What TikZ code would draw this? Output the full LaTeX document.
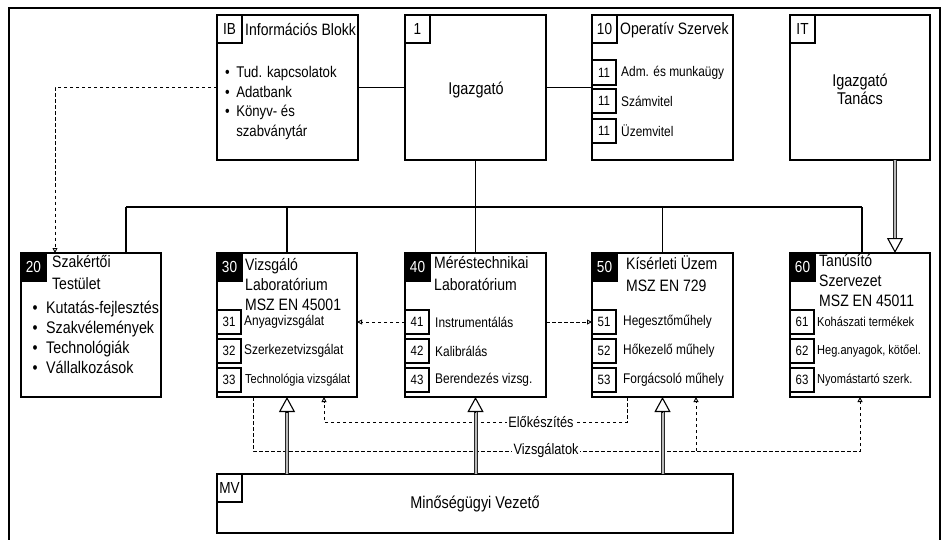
\documentclass[tikz,border=0pt]{standalone}
\usepackage{fontspec}
\setmainfont{Liberation Sans}[FakeStretch=0.85]
\usetikzlibrary{arrows.meta,calc}
\newcommand\ftitle{\fontsize{16.5pt}{20pt}\selectfont}
\newcommand\ftitleB{\fontsize{16.5pt}{22pt}\selectfont}
\newcommand\fmain{\fontsize{17pt}{18pt}\selectfont}
\newcommand\fbulA{\fontsize{15.5pt}{19.7pt}\selectfont}
\newcommand\fbulB{\fontsize{16.8pt}{20pt}\selectfont}
\newcommand\fsub{\fontsize{14pt}{16pt}\selectfont}
\newcommand\fsubS{\fontsize{13pt}{16pt}\selectfont}
\newcommand\fsubn{\fontsize{13.5pt}{16pt}\selectfont}
\newcommand\flab{\fontsize{16pt}{18pt}\selectfont}
\newcommand\fline{\fontsize{15pt}{17pt}\selectfont}
\begin{document}
\begin{tikzpicture}[x=1pt,y=-1pt,
 box/.style={draw, line width=1.1pt, fill=white, anchor=north west, inner sep=0pt, outer sep=0pt},
 lbl/.style={box, minimum width=25pt, minimum height=28pt, font=\flab},
 blk/.style={box, fill=black, text=white, minimum width=25pt, minimum height=28pt, font=\flab},
 subbox/.style={box, minimum width=24pt, minimum height=24pt, font=\fsubn},
 txt/.style={anchor=west, inner sep=0pt, align=left},
 conn/.style={line width=1.1pt},
 dsh/.style={line width=0.9pt, dash pattern=on 3.5pt off 2.5pt, -{Triangle[open,length=5pt,width=5pt]}},
 shaft/.style={draw=black!85, double=gray!55, double distance=2pt, line width=1pt},
 bigtip/.style={-{Triangle[open,length=15pt,width=16pt,line width=1.1pt]}, line width=1.1pt},
 linelab/.style={fill=white, inner sep=1.5pt, font=\fline}
]
\useasboundingbox (0,0) rectangle (944,540);
% frame
\draw[line width=1.1pt] (9,540) -- (9,8) -- (940,8) -- (940,540);

% top row
\node[box, minimum width=141pt, minimum height=145pt] (ib) at (217,15) {};
\node[lbl] (ibl) at (217,15) {IB};
\node[txt, font=\ftitle] (ibt) at (245,30) {Információs Blokk};
\node[txt, font=\fbulA] (ibb) at (225,103) {•\hspace{6.5pt}Tud. kapcsolatok\\ •\hspace{6.5pt}Adatbank\\ •\hspace{6.5pt}Könyv- és\\ \phantom{•}\hspace{6.5pt}szabványtár};

\node[box, minimum width=141pt, minimum height=145pt] (ig) at (405,15) {};
\node[lbl] (igl) at (405,15) {1};
\node[font=\fmain] (igt) at (476,90) {Igazgató};

\node[box, minimum width=141pt, minimum height=145pt] (op) at (592,15) {};
\node[lbl] (opl) at (592,15) {10};
\node[txt, font=\ftitle] (opt) at (620,30) {Operatív Szervek};
\node[subbox, minimum height=25pt] (s11a) at (592,60) {11};
\node[subbox] (s11b) at (592,89) {11};
\node[subbox] (s11c) at (592,119) {11};
\node[txt, font=\fsub] at (621,73) {Adm. és munkaügy};
\node[txt, font=\fsub] at (621,101) {Számvitel};
\node[txt, font=\fsub] at (621,131) {Üzemvitel};

\node[box, minimum width=140pt, minimum height=145pt] (it) at (790,15) {};
\node[lbl] (itl) at (790,15) {IT};
\node[font=\fmain, align=center] (itt) at (860,89) {Igazgató\\Tanács};

% second row
\node[box, minimum width=140pt, minimum height=144pt] (sz) at (21,253) {};
\node[blk] (szl) at (21,253) {20};
\node[txt, font=\ftitleB] (szt) at (52,273) {Szakértői\\Testület};
\node[txt, font=\fbulB] (szb) at (32.5,337) {•\hspace{8.5pt}Kutatás-fejlesztés\\ •\hspace{8.5pt}Szakvélemények\\ •\hspace{8.5pt}Technológiák\\ •\hspace{8.5pt}Vállalkozások};

\node[box, minimum width=140pt, minimum height=144pt] (vz) at (217,253) {};
\node[blk] (vzl) at (217,253) {30};
\node[txt, font=\ftitle] (vzt) at (245,285) {Vizsgáló\\Laboratórium\\MSZ EN 45001};
\node[subbox] (s31) at (217,310) {31};
\node[subbox] (s32) at (217,339) {32};
\node[subbox] (s33) at (217,368) {33};
\node[txt, font=\fsub] at (244,322) {Anyagvizsgálat};
\node[txt, font=\fsub] at (244,351) {Szerkezetvizsgálat};
\node[txt, font=\fsubS] at (245,380) {Technológia vizsgálat};

\node[box, minimum width=141pt, minimum height=144pt] (mt) at (405,253) {};
\node[blk] (mtl) at (405,253) {40};
\node[txt, font=\ftitleB] (mtt) at (434,274) {Méréstechnikai\\Laboratórium};
\node[subbox] (s41) at (405,310) {41};
\node[subbox] (s42) at (405,339) {42};
\node[subbox] (s43) at (405,368) {43};
\node[txt, font=\fsub] at (435,322) {Instrumentálás};
\node[txt, font=\fsub] at (435,351) {Kalibrálás};
\node[txt, font=\fsub] at (435,380) {Berendezés vizsg.};

\node[box, minimum width=141pt, minimum height=144pt] (ku) at (592,253) {};
\node[blk] (kul) at (592,253) {50};
\node[txt, font=\ftitleB] (kut) at (626,274) {Kísérleti Üzem\\MSZ EN 729};
\node[subbox] (s51) at (592,310) {51};
\node[subbox] (s52) at (592,339) {52};
\node[subbox] (s53) at (592,368) {53};
\node[txt, font=\fsub] at (623,322) {Hegesztőműhely};
\node[txt, font=\fsub] at (623,351) {Hőkezelő műhely};
\node[txt, font=\fsub] at (623,380) {Forgácsoló műhely};

\node[box, minimum width=140pt, minimum height=144pt] (ta) at (790,253) {};
\node[blk] (tal) at (790,253) {60};
\node[txt, font=\ftitle] (tat) at (819,281) {Tanúsító\\Szervezet\\MSZ EN 45011};
\node[subbox] (s61) at (790,310) {61};
\node[subbox] (s62) at (790,339) {62};
\node[subbox] (s63) at (790,368) {63};
\node[txt, font=\fsubS] at (817,322) {Kohászati termékek};
\node[txt, font=\fsubS] at (817,351) {Heg.anyagok, kötőel.};
\node[txt, font=\fsubS] at (817,380) {Nyomástartó szerk.};

% bottom
\node[box, minimum width=516pt, minimum height=59pt] (mv) at (217,474) {};
\node[lbl] (mvl) at (217,474) {MV};
\node[font=\fmain] (mvt) at (475,504) {Minőségügyi Vezető};

% solid connectors
\coordinate (busL) at (126,207);
\coordinate (busR) at (862,207);
\draw[conn] (ib.east) -- (ig.west);
\draw[conn] (ig.east) -- (op.west);
\draw[conn] (ig.south) -- (mt.north);
\draw[conn] (busL) -- (busR);
\draw[conn] (busL) -- (busL |- sz.north);
\draw[conn] (vz.north |- busL) -- (vz.north);
\draw[conn] (ku.north |- busL) -- (ku.north);
\draw[conn] (busR) -- (busR |- ta.north);

% dashed connectors
\coordinate (d1) at (55,87.5);
\draw[dsh] (ib.west) -- (d1) -- (d1 |- sz.north);
\draw[dsh] (s41.west) -- (vz.east |- s41.west);
\draw[dsh] (mt.east |- s51.west) -- (s51.west);
\coordinate (e1) at (627,422);
\coordinate (e2) at (324,422);
\draw[dsh] (ku.south -| e1) -- (e1) -- (e2) -- (vz.south -| e2);
\coordinate (v1) at (253,451);
\coordinate (v2) at (860,451);
\coordinate (v3) at (696,451);
\draw[dsh] (vz.south -| v1) -- (v1) -- (v2) -- (ta.south -| v2);
\draw[dsh] (v3) -- (ku.south -| v3);

% thick arrows
\coordinate (itx) at (895,0);
\draw[shaft, shorten >=15pt] (it.south -| itx) -- (ta.north -| itx);
\draw[bigtip] ($(ta.north -| itx)+(0,-15)$) -- (ta.north -| itx);
\foreach \b in {vz,mt,ku} {
  \draw[shaft, shorten >=15pt] (mv.north -| \b.south) -- (\b.south);
  \draw[bigtip] ($(\b.south)+(0,15)$) -- (\b.south);
}

% line labels
\node[linelab] (lab1) at (541,422) {Előkészítés};
\node[linelab] (lab2) at (546,451) {Vizsgálatok};
\end{tikzpicture}
\end{document}
